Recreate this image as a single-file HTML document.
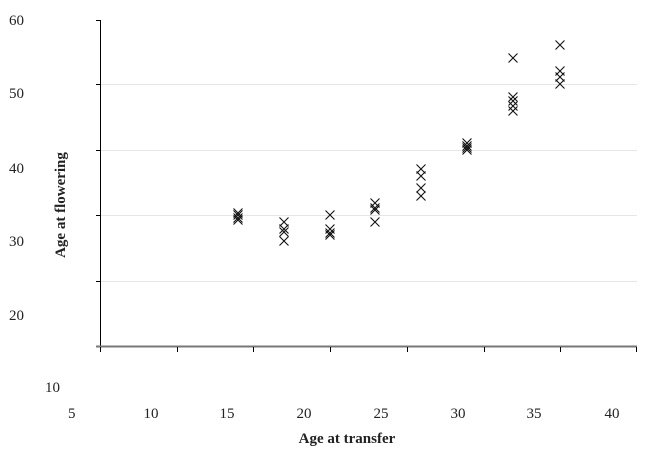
<!DOCTYPE html><html><head><style>body{margin:0;background:#fff}svg{display:block}text{font-family:"Liberation Serif",serif;fill:#222}</style></head><body>
<svg width="650" height="458" xmlns="http://www.w3.org/2000/svg">
<defs><path id="x" d="M-4.5 -4.5L4.5 4.5M-4.5 4.5L4.5 -4.5" stroke="#111" stroke-width="1.1" fill="none"/></defs>
<g stroke="#e6e6e6" stroke-width="1"><line x1="101" y1="84.5" x2="637" y2="84.5"/><line x1="101" y1="150.5" x2="637" y2="150.5"/><line x1="101" y1="215.5" x2="637" y2="215.5"/><line x1="101" y1="281.5" x2="637" y2="281.5"/></g>
<line x1="100.5" y1="20" x2="100.5" y2="346" stroke="#000"/>
<g stroke="#000"><line x1="96" y1="20.5" x2="100" y2="20.5"/><line x1="96" y1="84.5" x2="100" y2="84.5"/><line x1="96" y1="150.5" x2="100" y2="150.5"/><line x1="96" y1="215.5" x2="100" y2="215.5"/><line x1="96" y1="281.5" x2="100" y2="281.5"/><line x1="96" y1="346.5" x2="100" y2="346.5"/></g>
<line x1="96" y1="346.5" x2="637" y2="346.5" stroke="#777" stroke-width="2"/>
<g stroke="#000"><line x1="100.5" y1="347" x2="100.5" y2="352"/><line x1="177.5" y1="347" x2="177.5" y2="352"/><line x1="253.5" y1="347" x2="253.5" y2="352"/><line x1="330.5" y1="347" x2="330.5" y2="352"/><line x1="407.5" y1="347" x2="407.5" y2="352"/><line x1="484.5" y1="347" x2="484.5" y2="352"/><line x1="560.5" y1="347" x2="560.5" y2="352"/><line x1="636.5" y1="347" x2="636.5" y2="352"/></g>
<g font-size="15"><text x="9" y="25">60</text><text x="9" y="98">50</text><text x="9" y="173">40</text><text x="9" y="246">30</text><text x="9" y="320">20</text><text x="45" y="392">10</text><text x="68" y="418">5</text>
<g text-anchor="middle"><text x="151" y="418">10</text><text x="227" y="418">15</text><text x="304" y="418">20</text><text x="381" y="418">25</text><text x="458" y="418">30</text><text x="534" y="418">35</text><text x="612" y="418">40</text></g></g>
<text x="347" y="443" text-anchor="middle" font-size="15" font-weight="bold">Age at transfer</text>
<text transform="translate(65,205) rotate(-90)" text-anchor="middle" font-size="15" font-weight="bold">Age at flowering</text>
<use href="#x" x="238" y="213"/><use href="#x" x="238" y="215"/><use href="#x" x="238" y="218"/><use href="#x" x="238" y="220"/>
<use href="#x" x="284" y="222"/><use href="#x" x="284" y="229"/><use href="#x" x="284" y="232"/><use href="#x" x="284" y="241"/>
<use href="#x" x="330" y="215"/><use href="#x" x="330" y="229"/><use href="#x" x="330" y="233"/><use href="#x" x="330" y="235"/>
<use href="#x" x="375" y="203"/><use href="#x" x="375" y="208"/><use href="#x" x="375" y="210"/><use href="#x" x="375" y="222"/>
<use href="#x" x="421" y="169"/><use href="#x" x="421" y="176"/><use href="#x" x="421" y="188"/><use href="#x" x="421" y="196"/>
<use href="#x" x="467" y="143"/><use href="#x" x="467" y="146"/><use href="#x" x="467" y="148"/><use href="#x" x="467" y="150"/>
<use href="#x" x="513" y="58"/><use href="#x" x="513" y="97"/><use href="#x" x="513" y="101"/><use href="#x" x="513" y="106"/><use href="#x" x="513" y="111"/>
<use href="#x" x="560" y="45"/><use href="#x" x="560" y="71"/><use href="#x" x="560" y="77"/><use href="#x" x="560" y="84"/>
</svg></body></html>
